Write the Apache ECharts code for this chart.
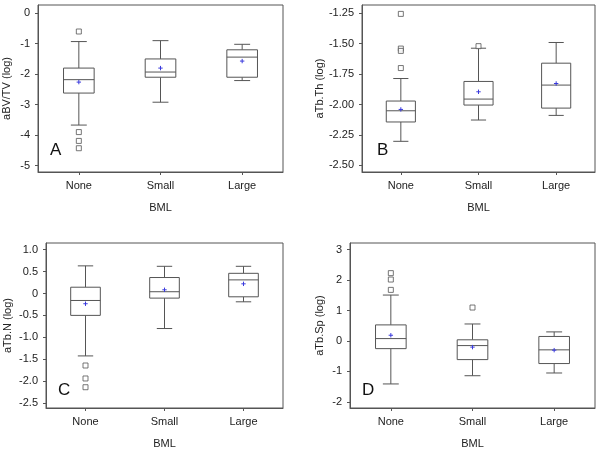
<!DOCTYPE html>
<html><head><meta charset="utf-8">
<script src="https://cdn.jsdelivr.net/npm/echarts@6/dist/echarts.min.js"></script>
<style>html,body{margin:0;padding:0;background:#fff}#c{width:602px;height:450px}</style>
</head><body><div id="c"></div>
<script>
// ---- data ----
const categories = ['None', 'Small', 'Large'];
const xAxisTitle = 'BML';
// each row: [whiskerLow, Q1, median, Q3, whiskerHigh, mean]
const boxA = [[-3.67, -2.62, -2.18, -1.80, -0.93, -2.26],
              [-2.92, -2.10, -1.93, -1.50, -0.90, -1.80],
              [-2.21, -2.10, -1.44, -1.20, -1.02, -1.57]];
const outliersA = [[0, -0.60], [0, -3.90], [0, -4.19], [0, -4.43]];
const ticksA = ['-5', '-4', '-3', '-2', '-1', '0'];

const boxB = [[-2.302, -2.143, -2.051, -1.971, -1.786, -2.040],
              [-2.127, -2.004, -1.955, -1.810, -1.537, -1.895],
              [-2.089, -2.029, -1.840, -1.660, -1.490, -1.827]];
const outliersB = [[0, -1.255], [0, -1.540], [0, -1.559], [0, -1.700], [1, -1.520]];
const ticksB = ['-2.50', '-2.25', '-2.00', '-1.75', '-1.50', '-1.25'];

const boxC = [[-1.425, -0.50, -0.16, 0.143, 0.63, -0.234],
              [-0.80, -0.106, 0.04, 0.364, 0.62, 0.084],
              [-0.19, -0.076, 0.31, 0.46, 0.62, 0.22]];
const outliersC = [[0, -1.644], [0, -1.94], [0, -2.14]];
const ticksC = ['-2.5', '-2.0', '-1.5', '-1.0', '-0.5', '0', '0.5', '1.0'];

const boxD = [[-1.41, -0.25, 0.08, 0.53, 1.51, 0.19],
              [-1.14, -0.61, -0.15, 0.04, 0.56, -0.20],
              [-1.05, -0.74, -0.29, 0.15, 0.30, -0.30]];
const outliersD = [[0, 2.23], [0, 2.02], [0, 1.68], [1, 1.10]];
const ticksD = ['-2', '-1', '0', '1', '2', '3'];

const panelLetters = ['A', 'B', 'C', 'D'];
const yTitles = ['aBV/TV (log)', 'aTb.Th (log)', 'aTb.N (log)', 'aTb.Sp (log)'];

// ---- layout / styling ----
const FONT = 'Liberation Sans, Arial, sans-serif';
const AX = '#555';
const LINE = '#555';
const TXT = '#222';
const panels = [
  {grid: {left: 37, top: 5, width: 246, height: 167}, yr: [-5.21, 0.27], box: boxA, out: outliersA, ticks: ticksA, nameGap: 26, letter: [56, 152]},
  {grid: {left: 362, top: 5, width: 233, height: 167}, yr: [-2.554, -1.182], box: boxB, out: outliersB, ticks: ticksB, nameGap: 37, letter: [383, 152]},
  {grid: {left: 46, top: 243, width: 237, height: 166}, yr: [-2.614, 1.152], box: boxC, out: outliersC, ticks: ticksC, nameGap: 33, letter: [64, 392]},
  {grid: {left: 350, top: 243, width: 245, height: 166}, yr: [-2.2, 3.22], box: boxD, out: outliersD, ticks: ticksD, nameGap: 25, letter: [368, 392]}
];

function renderBox(params, api) {
  const x = api.value(0);
  const p = i => api.coord([x, api.value(i)]);
  const lo = p(1), q1 = p(2), md = p(3), q3 = p(4), hi = p(5), mn = p(6);
  const band = api.size([1, 0])[0];
  const bw = band * 0.375, cw = band * 0.195;
  const cx = lo[0];
  const st = {stroke: LINE, lineWidth: 1, fill: null};
  const ln = (x1, y1, x2, y2, s) => ({type: 'line', shape: {x1, y1, x2, y2}, style: s || st});
  const ms = 2.2;
  const meanSt = {stroke: '#3a3add', lineWidth: 1};
  return {type: 'group', children: [
    ln(cx, hi[1], cx, q3[1]),
    ln(cx, q1[1], cx, lo[1]),
    ln(cx - cw / 2, hi[1], cx + cw / 2, hi[1]),
    ln(cx - cw / 2, lo[1], cx + cw / 2, lo[1]),
    {type: 'rect', shape: {x: cx - bw / 2, y: q3[1], width: bw, height: q1[1] - q3[1]}, style: {stroke: LINE, lineWidth: 1, fill: '#fff'}},
    ln(cx - bw / 2, md[1], cx + bw / 2, md[1]),
    ln(cx - ms, mn[1], cx + ms, mn[1], meanSt),
    ln(cx, mn[1] - ms, cx, mn[1] + ms, meanSt)
  ]};
}

const grids = [], xAxes = [], yAxes = [], series = [], graphics = [];
panels.forEach((pn, i) => {
  grids.push(Object.assign({show: true, borderColor: AX, borderWidth: 1, backgroundColor: 'transparent'}, pn.grid));
  xAxes.push({
    type: 'category', gridIndex: i, data: categories, boundaryGap: true,
    name: xAxisTitle, nameLocation: 'middle', nameGap: 30,
    nameTextStyle: {fontFamily: FONT, fontSize: 11, color: TXT},
    axisLine: {show: true, onZero: false, lineStyle: {color: AX}},
    axisTick: {show: true, alignWithLabel: true, length: 3, lineStyle: {color: AX}},
    axisLabel: {fontFamily: FONT, fontSize: 11, color: TXT, margin: 8},
    splitLine: {show: false}
  });
  const vals = pn.ticks.map(Number);
  yAxes.push({
    type: 'value', gridIndex: i, min: pn.yr[0], max: pn.yr[1],
    name: yTitles[i], nameLocation: 'middle', nameGap: pn.nameGap,
    nameTextStyle: {fontFamily: FONT, fontSize: 11, color: TXT},
    axisLine: {show: true, onZero: false, lineStyle: {color: AX}},
    axisTick: {show: true, length: 3, lineStyle: {color: AX}, customValues: vals},
    axisLabel: {fontFamily: FONT, fontSize: 11, color: TXT, margin: 8, customValues: vals,
      formatter: v => { const k = vals.findIndex(t => Math.abs(t - v) < 1e-9); return k >= 0 ? pn.ticks[k] : ''; }},
    splitLine: {show: false}
  });
  series.push({
    type: 'custom', xAxisIndex: i, yAxisIndex: i, renderItem: renderBox,
    encode: {x: 0, y: [1, 2, 3, 4, 5, 6]},
    data: pn.box.map((r, k) => [k].concat(r)), z: 2
  });
  series.push({
    type: 'scatter', xAxisIndex: i, yAxisIndex: i, data: pn.out,
    symbol: 'rect', symbolSize: 5,
    itemStyle: {color: '#fff', borderColor: '#555', borderWidth: 1}, z: 3
  });
  graphics.push({type: 'text', left: pn.letter[0] - 6, top: pn.letter[1] - 10,
    style: {text: panelLetters[i], font: '17px ' + FONT, fill: '#111'}});
});

const chart = echarts.init(document.getElementById('c'), null, {renderer: 'canvas'});
chart.setOption({
  animation: false, backgroundColor: '#fff',
  grid: grids, xAxis: xAxes, yAxis: yAxes, series: series, graphic: graphics
});
</script></body></html>
